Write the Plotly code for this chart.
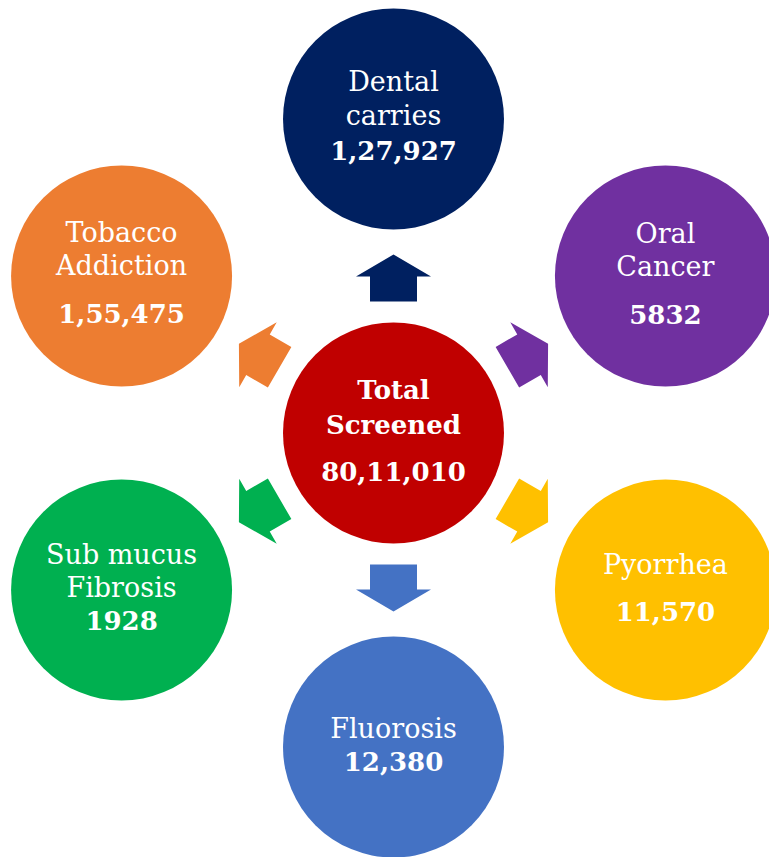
import math
import plotly.graph_objects as go

# ---- data ----
categories = ["Dental carries", "Oral Cancer", "Pyorrhea", "Fluorosis",
              "Sub mucus Fibrosis", "Tobacco Addiction"]
name_lines = [["Dental", "carries"], ["Oral", "Cancer"], ["Pyorrhea"],
              ["Fluorosis"], ["Sub mucus", "Fibrosis"], ["Tobacco", "Addiction"]]
values = [127927, 5832, 11570, 12380, 1928, 155475]
value_labels = ["1,27,927", "5832", "11,570", "12,380", "1928", "1,55,475"]
total_title = ["Total", "Screened"]
total_value = 8011010
total_label = "80,11,010"

# ---- styles / layout ----
colors = ["#002060", "#7030A0", "#FFC000", "#4472C4", "#00B050", "#ED7D31"]
center_color = "#C00000"
angles = [90, 30, -30, -90, -150, 150]
# baseline offsets (px, relative to circle center) for each text line
line_offsets = [[-25, 9, 44], [-30.5, 2.5, 50.5], [-13.5, 33.5], [-6, 27],
                [-23.5, 9.5, 42.5], [-31.5, 1.5, 49.5]]
center_offsets = [-31, 4, 51]

W, H = 769, 857
CX, CY = 393.5, 433
R_OUT = 314
R_ARROW = 155
DIAM = 221
FONT = "DejaVu Serif"
REG_SIZE = 27
BOLD_SIZE = 26
CENTER_SIZE = 26

fig = go.Figure()

# arrows
arrow_local = [(-23.5, -23.5), (1.5, -23.5), (1.5, -37.5), (23.5, 0),
               (1.5, 37.5), (1.5, 23.5), (-23.5, 23.5), (-23.5, -23.5)]
for ang, col in zip(angles, colors):
    t = math.radians(ang)
    ax = CX + R_ARROW * math.cos(t)
    ay = CY - R_ARROW * math.sin(t)
    dx, dy = math.cos(t), -math.sin(t)
    nx, ny = math.sin(t), math.cos(t)
    xs = [ax + u * dx + v * nx for u, v in arrow_local]
    ys = [ay + u * dy + v * ny for u, v in arrow_local]
    fig.add_trace(go.Scatter(x=xs, y=ys, mode="lines", fill="toself",
                             fillcolor=col, line=dict(width=0, color=col),
                             hoverinfo="skip", showlegend=False))

# circles
cxs = [CX + R_OUT * math.cos(math.radians(a)) for a in angles]
cys = [CY - R_OUT * math.sin(math.radians(a)) for a in angles]
fig.add_trace(go.Scatter(x=cxs + [CX], y=cys + [CY], mode="markers",
                         marker=dict(size=DIAM, color=colors + [center_color],
                                     line=dict(width=0), opacity=1),
                         customdata=values + [total_value],
                         hoverinfo="skip", showlegend=False))

# text (baseline ~ y + 0.35*size for middle-centered text)
reg_x, reg_y, reg_t = [], [], []
bold_x, bold_y, bold_t = [], [], []
for i in range(len(categories)):
    offs = line_offsets[i]
    for j, ln in enumerate(name_lines[i]):
        reg_x.append(cxs[i])
        reg_y.append(cys[i] + offs[j] - 0.35 * REG_SIZE)
        reg_t.append(ln)
    bold_x.append(cxs[i])
    bold_y.append(cys[i] + offs[len(name_lines[i])] - 0.35 * BOLD_SIZE)
    bold_t.append(value_labels[i])

fig.add_trace(go.Scatter(x=reg_x, y=reg_y, text=reg_t, mode="text",
                         textposition="middle center",
                         textfont=dict(family=FONT, size=REG_SIZE, color="white"),
                         hoverinfo="skip", showlegend=False))
fig.add_trace(go.Scatter(x=bold_x, y=bold_y, text=bold_t, mode="text",
                         textposition="middle center",
                         textfont=dict(family=FONT, size=BOLD_SIZE, color="white",
                                       weight="bold"),
                         hoverinfo="skip", showlegend=False))
c_lines = total_title + [total_label]
fig.add_trace(go.Scatter(x=[CX] * 3,
                         y=[CY + o - 0.35 * CENTER_SIZE for o in center_offsets],
                         text=c_lines, mode="text", textposition="middle center",
                         textfont=dict(family=FONT, size=CENTER_SIZE, color="white",
                                       weight="bold"),
                         hoverinfo="skip", showlegend=False))

fig.update_layout(
    width=W, height=H,
    margin=dict(l=0, r=0, t=0, b=0),
    paper_bgcolor="white", plot_bgcolor="white",
    xaxis=dict(range=[0, W], visible=False, fixedrange=True),
    yaxis=dict(range=[H, 0], visible=False, fixedrange=True),
    showlegend=False,
)

fig.write_html("out.html",
               config={"displayModeBar": False, "staticPlot": True},
               post_script="document.body.style.margin='0';"
                           "document.body.style.overflow='hidden';")
